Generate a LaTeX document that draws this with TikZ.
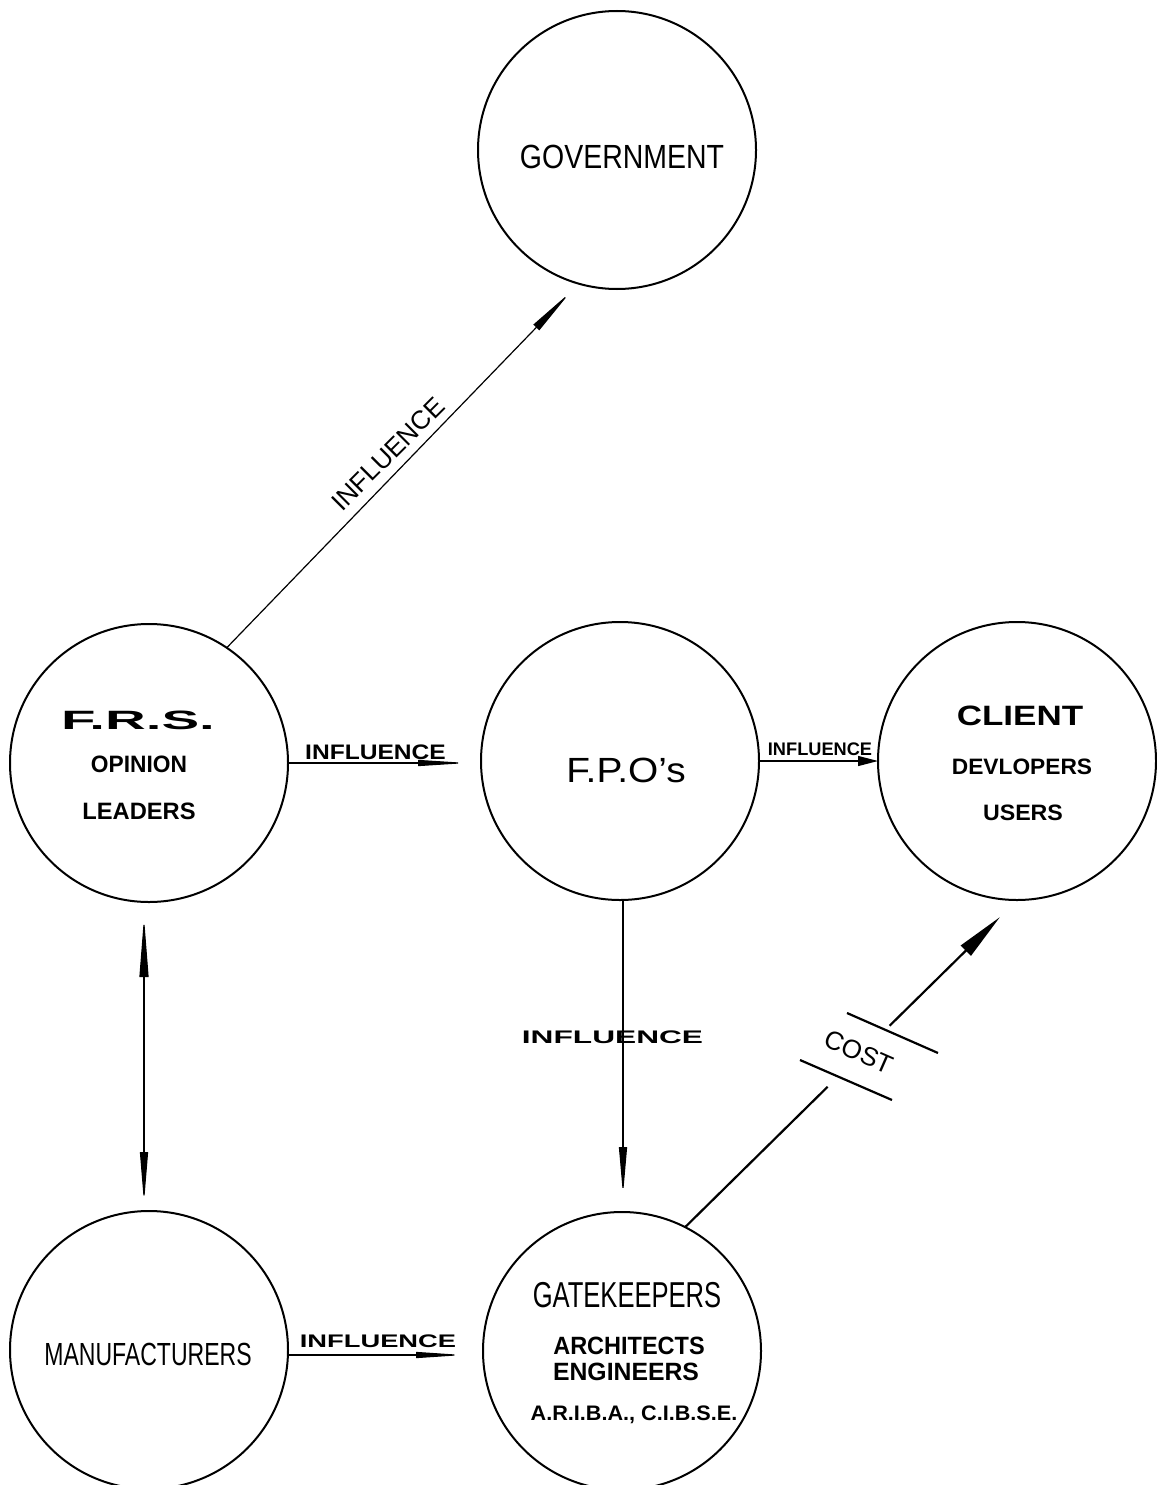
\documentclass[tikz,border=0pt]{standalone}
\usepackage{graphicx}
\usepackage{fontspec}
\setmainfont{Liberation Sans}
\usetikzlibrary{arrows.meta,calc}
% text at a given size, stretched or narrowed horizontally
\newcommand\wtxt[3]{{\fontsize{#1}{#1}\selectfont\scalebox{#2}[1]{#3}}}

\begin{document}
\begin{tikzpicture}[x=1pt,y=-1pt,
  party/.style={circle,draw,line width=2pt,minimum size=278pt,inner sep=0pt,outer sep=0pt},
  lbl/.style={inner sep=0pt,anchor=base},
  link/.style={line width=1.2pt},
  costline/.style={line width=2.2pt},
  tipslim/.style={-{Triangle[length=50pt,width=6pt]}},
]
\path[use as bounding box,fill=white] (0,0) rectangle (1156,1485);

% ---- parties ----
\node[party] (gov) at (617,150) {};
\node[lbl] (govtxt) at (622,168) {\wtxt{33.5}{0.85}{GOVERNMENT}};

\node[party] (frs) at (149,763) {};
\node[lbl] (frs1) at (138,729) {\bfseries\wtxt{26.5}{2.13}{F.R.S.}};
\node[lbl] (frs2) at (139,772) {\bfseries\wtxt{23.7}{0.96}{OPINION}};
\node[lbl] (frs3) at (139,819) {\bfseries\wtxt{23.7}{1.0}{LEADERS}};

\node[party] (fpo) at (620,761) {};
\node[lbl] (fpotxt) at (626,782) {\wtxt{35}{1.11}{F.P.O’s}};

\node[party] (client) at (1017,761) {};
\node[lbl] (cl1) at (1020,725) {\bfseries\wtxt{28}{1.25}{CLIENT}};
\node[lbl] (cl2) at (1022,774) {\bfseries\wtxt{22.3}{1.02}{DEVLOPERS}};
\node[lbl] (cl3) at (1023,820) {\bfseries\wtxt{22.3}{1.04}{USERS}};

\node[party] (manuf) at (149,1350) {};
\node[lbl] (mantxt) at (148,1365) {\wtxt{32}{0.72}{MANUFACTURERS}};

\node[party] (gate) at (622,1351) {};
\node[lbl] (gk1) at (627,1307) {\wtxt{36}{0.71}{GATEKEEPERS}};
\node[lbl] (gk2) at (629,1354) {\bfseries\wtxt{25}{0.94}{ARCHITECTS}};
\node[lbl] (gk3) at (626,1380) {\bfseries\wtxt{25}{0.99}{ENGINEERS}};
\node[lbl] (gk4) at (634,1420) {\bfseries\wtxt{21}{1.03}{A.R.I.B.A., C.I.B.S.E.}};

% ---- influence links ----
\draw[link,-{Triangle[length=49pt,width=8pt]},shorten >=12pt] (frs.56) -- (gov.254);
\node[rotate=45,inner sep=0pt] (lgov) at (388,454) {\fontsize{26}{26}\selectfont INFLUENCE};

\draw[link,tipslim,shorten >=13pt] (frs.east) -- (frs.east -| fpo.west);
\node[lbl] (lfpo) at (375.5,759) {\bfseries\wtxt{21}{1.17}{INFLUENCE}};

\draw[link,-{Triangle[length=20pt,width=10pt]}] (fpo.east) -- (fpo.east -| client.west);
\node[lbl] (lcl) at (820,755) {\bfseries\wtxt{18.2}{1.0}{INFLUENCE}};

\draw[link,-{Triangle[length=48pt,width=8pt]},shorten >=17pt]
  ([xshift=3pt]fpo.south) -- ([xshift=3pt]fpo.south |- gate.north);
\node[lbl] (lgk) at (612.5,1043) {\bfseries\wtxt{18.2}{1.74}{INFLUENCE}};

\draw[link,{Triangle[length=60pt,width=9pt]}-{Triangle[length=51pt,width=8pt]},
  shorten <=15pt,shorten >=8pt]
  ([xshift=-5pt]frs.south) -- ([xshift=-5pt]frs.south |- manuf.north);

\draw[link,-{Triangle[length=48pt,width=6pt]},shorten >=19pt]
  ([yshift=-5pt]manuf.east) -- ([yshift=-5pt]manuf.east -| gate.west);
\node[lbl] (lman) at (378,1347) {\bfseries\wtxt{18.2}{1.5}{INFLUENCE}};

% ---- cost link, broken by the label ----
\coordinate (cstart) at (gate.63);
\coordinate (costtip) at (1000,917);
\draw[costline] (cstart) -- ($(cstart)!200pt!(costtip)$);
\draw[costline,-{Triangle[length=48pt,width=14pt]}] ($(cstart)!287pt!(costtip)$) -- (costtip);
\coordinate (tka) at (847,1013);
\coordinate (tkb) at (938,1053);
\coordinate (tkc) at (800,1060);
\coordinate (tkd) at (892,1100);
\draw[costline] (tka) -- (tkb);
\draw[costline] (tkc) -- (tkd);
\node[rotate=-23.7,inner sep=0pt] (cost) at (859,1052) {\fontsize{26}{26}\selectfont COST};
\end{tikzpicture}
\end{document}
